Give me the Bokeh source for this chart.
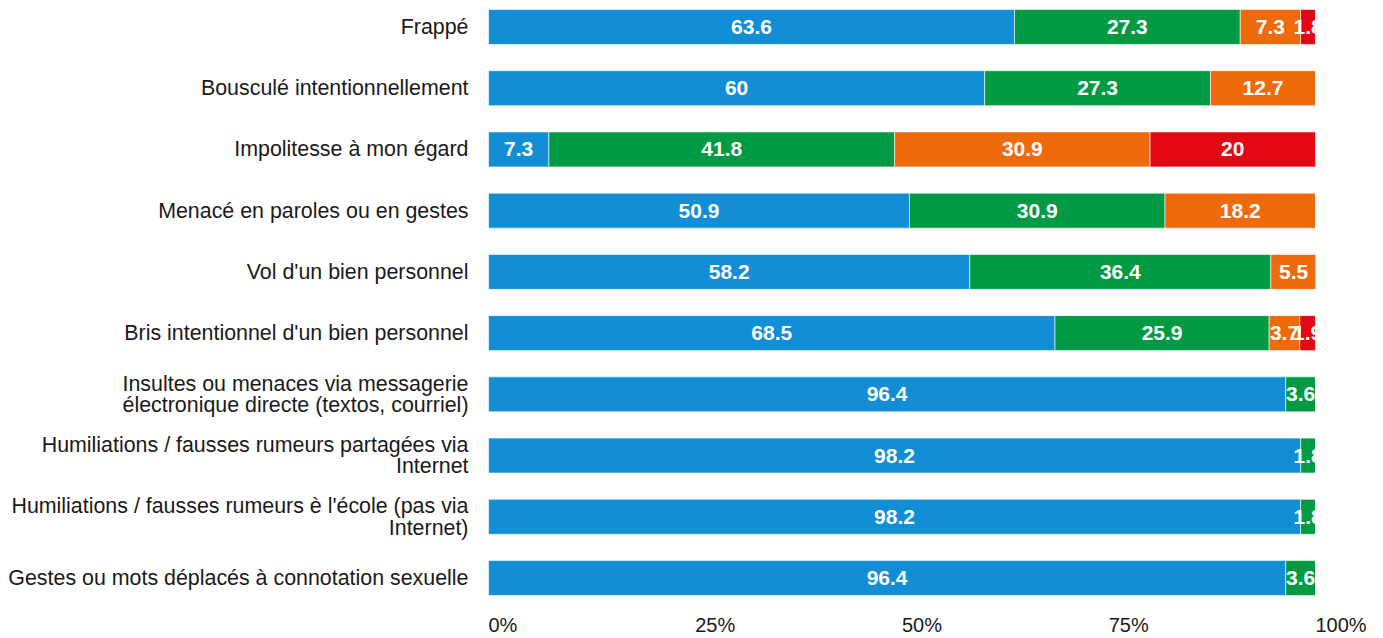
from bokeh.plotting import figure
from bokeh.models import ColumnDataSource, Range1d, FixedTicker
from bokeh.core.properties import value
from bokeh.embed import file_html
from bokeh.resources import INLINE

categories = [
    "Frappé",
    "Bousculé intentionnellement",
    "Impolitesse à mon égard",
    "Menacé en paroles ou en gestes",
    "Vol d'un bien personnel",
    "Bris intentionnel d'un bien personnel",
    "Insultes ou menaces via messagerie\nélectronique directe (textos, courriel)",
    "Humiliations / fausses rumeurs partagées via\nInternet",
    "Humiliations / fausses rumeurs è l'école (pas via\nInternet)",
    "Gestes ou mots déplacés à connotation sexuelle",
]
s1 = [63.6, 60, 7.3, 50.9, 58.2, 68.5, 96.4, 98.2, 98.2, 96.4]
s2 = [27.3, 27.3, 41.8, 30.9, 36.4, 25.9, 3.6, 1.8, 1.8, 3.6]
s3 = [7.3, 12.7, 30.9, 18.2, 5.5, 3.7, 0, 0, 0, 0]
s4 = [1.8, 0, 20, 0, 0, 1.9, 0, 0, 0, 0]
series_names = ["s1", "s2", "s3", "s4"]
colors = ["#128ED6", "#009A44", "#EE6A0B", "#E30613"]
x_ticks = [0, 25, 50, 75, 100]
x_tick_labels = ["0%", "25%", "50%", "75%", "100%"]

FONT = "Liberation Sans"
ypos = list(range(len(categories)))

BORDER_LEFT = 488
WIDTH = 1375
BAR_PX = 827                      # pixels for 0..100 %
FRAME_W = WIDTH - BORDER_LEFT
X_END = 100.0 * FRAME_W / BAR_PX  # frame extends past 100 % so the "100%" label fits
XFONT_PX = 20
Y_BOTTOM = 9.383
Y_TOP = -0.432

src = ColumnDataSource(dict(y=ypos, s1=s1, s2=s2, s3=s3, s4=s4))

p = figure(width=WIDTH, height=638, output_backend="svg", toolbar_location=None,
           x_range=Range1d(0, X_END), y_range=Range1d(Y_BOTTOM, Y_TOP),
           min_border_left=BORDER_LEFT, min_border_right=0, min_border_top=0,
           min_border_bottom=0)
p.outline_line_color = None
p.grid.visible = False
p.background_fill_color = "white"

p.hbar_stack(series_names, y="y", height=0.571, color=colors, source=src,
             line_color="white", line_width=1, line_alpha=0.6)

# value labels
lx, ly, lt = [], [], []
all_series = [s1, s2, s3, s4]
for i in range(len(categories)):
    left = 0
    for s in all_series:
        v = s[i]
        if v > 0:
            lx.append(left + v / 2)
            ly.append(i)
            lt.append(f"{v:g}")
        left += v
p.text(x=lx, y=ly, text=lt, text_color="white", text_font=value(FONT),
       text_font_style="bold", text_font_size="21px", text_align="center",
       text_baseline="middle")

# the chart area ends at 100 %: anything beyond it is cut off (white mask)
p.quad(left=[100], right=[X_END], top=[Y_TOP], bottom=[Y_BOTTOM],
       fill_color="white", line_color=None)

# y axis (category labels)
p.yaxis.ticker = FixedTicker(ticks=ypos)
p.yaxis.major_label_overrides = {i: c for i, c in enumerate(categories)}
p.yaxis.axis_line_color = None
p.yaxis.major_tick_line_color = None
p.yaxis.minor_tick_line_color = None
p.yaxis.major_tick_out = 0
p.yaxis.minor_tick_out = 0
p.yaxis.major_label_text_font = FONT
p.yaxis.major_label_text_font_size = "21.4px"
p.yaxis.major_label_text_color = "#1a1a1a"
p.yaxis.major_label_standoff = 20
p.yaxis.major_label_text_line_height = 0.9

# x tick labels are left-aligned at their tick: shift the label centre by half its width
def _label_width_em(s):
    return sum(0.889 if ch == "%" else 0.556 for ch in s)

px_per_unit = BAR_PX / 100.0
shifted = [t + _label_width_em(l) * XFONT_PX / 2 / px_per_unit
           for t, l in zip(x_ticks, x_tick_labels)]
p.xaxis.ticker = FixedTicker(ticks=shifted)
p.xaxis.major_label_overrides = {t: l for t, l in zip(shifted, x_tick_labels)}
p.xaxis.axis_line_color = None
p.xaxis.major_tick_line_color = None
p.xaxis.minor_tick_line_color = None
p.xaxis.major_tick_out = 0
p.xaxis.minor_tick_out = 0
p.xaxis.major_label_text_font = FONT
p.xaxis.major_label_text_font_size = f"{XFONT_PX}px"
p.xaxis.major_label_text_color = "#1a1a1a"
p.xaxis.major_label_standoff = 12

open("out.html", "w").write(file_html(p, INLINE))
